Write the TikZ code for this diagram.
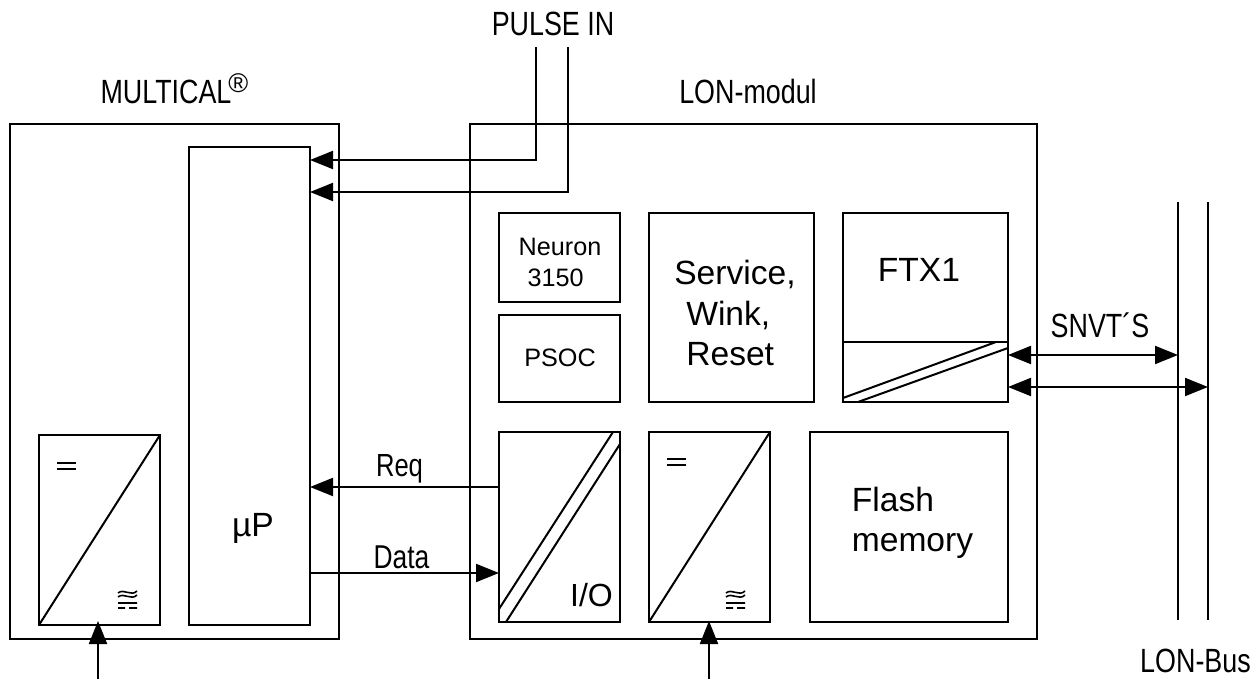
\documentclass[tikz,border=0pt]{standalone}
\usepackage{fontspec}
\setmainfont{Liberation Sans}
\newfontfamily\narrowfont[FakeStretch=0.8]{Liberation Sans}
\usetikzlibrary{arrows.meta, positioning}

\begin{document}
\begin{tikzpicture}[
    x=0.5pt, y=-0.5pt,
    line width=1pt,
    blk/.style={rectangle, draw, inner sep=0pt, outer sep=0pt, anchor=north west},
    cellbox/.style={blk, minimum width=60.5pt, minimum height=#1},
    widebox/.style={blk, minimum width=82.5pt, minimum height=94.5pt},
    lbl/.style={inner sep=0pt, anchor=base, font=\fontsize{16.8}{20}\selectfont},
    smalllbl/.style={inner sep=0pt, anchor=base, font=\fontsize{12.6}{15.5}\selectfont},
    narrowlbl/.style={inner sep=0pt, anchor=base, font=\narrowfont\fontsize{16.8}{19}\selectfont},
    arrow/.style={-{Triangle[length=11.5pt, width=9pt]}},
    dblarrow/.style={{Triangle[length=11.5pt, width=9pt]}-{Triangle[length=11.5pt, width=9pt]}},
    dcmark/.pic={
      \draw[line width=0.7pt] (0,0) -- (19,0) (0,6) -- (19,6);
    },
    acmark/.pic={
      \draw[line width=0.8pt] (0,2) .. controls (6,-3) and (13,6) .. (19,0)
        (0,6) .. controls (6,1) and (13,10) .. (19,4)
        (0,12) -- (19,12)
        (0,17) -- (7,17) (11,17) -- (19,17);
    }
  ]
    \useasboundingbox (0,0) rectangle (1260,679);

    % outer modules
    \node[blk, minimum width=164.5pt, minimum height=257.5pt] (multical) at (10,124) {};
    \node[blk, minimum width=283.5pt, minimum height=257.5pt] (lon) at (470,124) {};

    % MULTICAL side
    \node[cellbox=239pt] (up) at (189,147) {};
    \node[cellbox=95pt] (conva) at (39,435) {};

    % LON side
    \node[cellbox=44.5pt] (neuron) at (499,213) {};
    \node[cellbox=43.5pt, below=6.5pt of neuron.south west, anchor=north west] (psoc) {};
    \node[widebox, right=14.5pt of neuron.north east, anchor=north west] (service) {};
    \node[widebox, right=14.5pt of service.north east, anchor=north west] (ftx) {};
    \node[cellbox=95pt] (io) at (499,432) {};
    \node[cellbox=95pt, right=14.5pt of io.north east, anchor=north west] (convb) {};
    \node[blk, minimum width=99pt, minimum height=95pt, right=20pt of convb.north east, anchor=north west] (flash) {};

    % box contents
    \draw (conva.south west) -- (conva.north east);
    \draw (convb.south west) -- (convb.north east);
    \draw (499,609) -- (613,432) (506,622) -- (620,444);
    \draw (ftx.west |- 0,342) -- (ftx.east |- 0,342);
    \draw (843,398) -- (996,342) (858,402) -- (1008,348);
    \pic at (57,463) {dcmark};
    \pic at (667,459) {dcmark};
    \pic at (118,591) {acmark};
    \pic at (726,591) {acmark};

    % labels
    \node[narrowlbl] (pulselbl) at (553,36) {PULSE IN};
    \node[narrowlbl, anchor=base west] (multilbl) at (99.5,104) {MULTICAL\hspace{-1.5pt}\raisebox{5.5pt}{\normalfont\fontsize{13.5}{13.5}\selectfont ®}};
    \node[narrowlbl] (lonlbl) at (748,104) {LON-modul};
    \node[narrowlbl] (buslbl) at (1195.5,672) {LON-Bus};
    \node[narrowlbl, font=\narrowfont\fontsize{16}{18}\selectfont] (reqlbl) at (399.5,477) {Req};
    \node[narrowlbl, font=\narrowfont\fontsize{16.5}{18}\selectfont] (datalbl) at (401.5,568) {Data};
    \node[narrowlbl] (snvtlbl) at (1100,338) {SNVT´S};
    \node[lbl] (uplbl) at (253,537) {µP};
    \node[smalllbl, anchor=center, align=left] (neuronlbl) at (560,262) {Neuron\\\hspace{4.5pt}3150};
    \node[smalllbl] (psoclbl) at (560,367) {PSOC};
    \node[lbl, anchor=center, align=left, font=\fontsize{16.8}{20.25}\selectfont] (servicelbl) at (735,313) {Service,\\\hspace{6pt}Wink,\\\hspace{6pt}Reset};
    \node[lbl] (ftxlbl) at (919,282) {FTX1};
    \node[lbl, font=\fontsize{16}{19}\selectfont] (iolbl) at (591.5,606) {I/O};
    \node[lbl, anchor=center, align=left] (flashlbl) at (912.5,523) {Flash\\memory};

    % connector ends
    \coordinate (pulsea) at (536,47);
    \coordinate (pulseb) at (568,47);
    \coordinate (reqy) at (0,487);
    \coordinate (datay) at (0,573);
    \coordinate (snvty) at (0,355);
    \coordinate (lony) at (0,387);
    \coordinate (feeda) at (98,679);
    \coordinate (feedb) at (709,679);
    \coordinate (tipa) at (98,621);
    \coordinate (tipb) at (709,621);
    \coordinate (busatop) at (1178,202);
    \coordinate (busabot) at (1178,620);
    \coordinate (busbtop) at (1208,202);
    \coordinate (busbbot) at (1208,620);

    \draw (busatop) -- (busabot);
    \draw (busbtop) -- (busbbot);

    \draw[arrow] (pulsea) |- (up.east |- 0,160);
    \draw[arrow] (pulseb) |- (up.east |- 0,192);
    \draw[arrow] (io.west |- reqy) -- (up.east |- reqy);
    \draw[arrow] (up.east |- datay) -- (io.west |- datay);
    \draw[dblarrow] (ftx.east |- snvty) -- (busatop |- snvty);
    \draw[dblarrow] (ftx.east |- lony) -- (busbtop |- lony);
    \draw[arrow] (feeda) -- (tipa);
    \draw[arrow] (feedb) -- (tipb);
\end{tikzpicture}
\end{document}
